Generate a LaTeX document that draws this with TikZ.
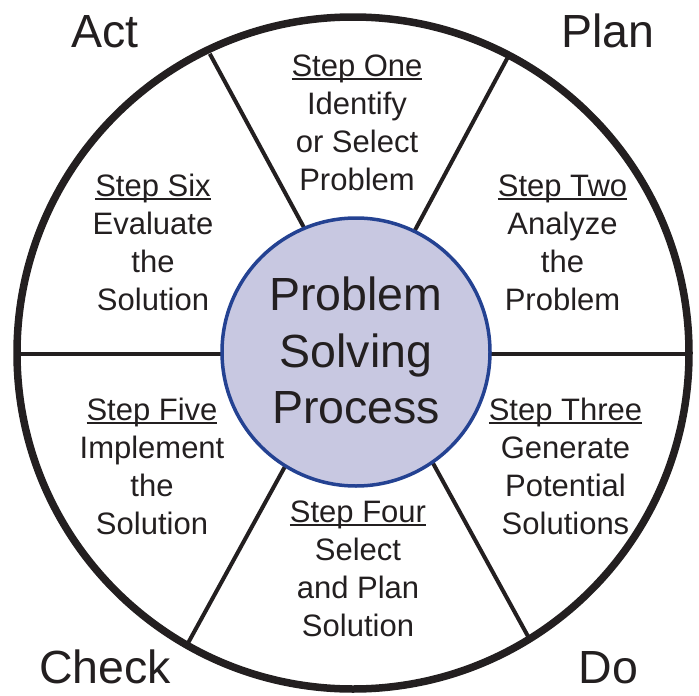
\documentclass[tikz,border=0pt]{standalone}
\usepackage{fontspec}
\setmainfont{Liberation Sans}
\definecolor{ink}{RGB}{35,31,32}
\definecolor{hubfill}{RGB}{200,200,225}
\definecolor{hubline}{RGB}{36,66,146}
\newcommand\stepul[1]{\setbox0\hbox{#1}\rlap{\rule[-4pt]{\wd0}{1.8pt}}\box0}
\tikzset{
  ringline/.style={draw=ink,line width=7.5pt},
  spoke/.style={draw=ink,line width=4pt},
  hub/.style={circle,draw=hubline,fill=hubfill,line width=3.5pt,minimum size=268pt,inner sep=0pt},
  steptxt/.style={anchor=base,inner sep=0pt,text=ink,font=\fontsize{31}{38}\selectfont},
  hubtxt/.style={anchor=base,inner sep=0pt,text=ink,font=\fontsize{46.5}{56}\selectfont},
  cornertxt/.style={anchor=base,inner sep=0pt,text=ink,font=\fontsize{46.5}{56}\selectfont}
}
\begin{document}
\begin{tikzpicture}[x=1pt,y=-1pt]
\useasboundingbox (0,0) rectangle (699,696);
% spoke end points
\coordinate (hl) at (17,354);
\coordinate (hr) at (689,354);
\coordinate (tlo) at (209.8,53.8);  \coordinate (tli) at (308,235);
\coordinate (tro) at (508.6,55.8);  \coordinate (tri) at (411.3,237);
\coordinate (blo) at (187.4,644.2); \coordinate (bli) at (288,461);
\coordinate (bro) at (529.2,638.5); \coordinate (bri) at (428.5,455);
\draw[spoke] (hl) -- (hr);
\draw[spoke] (tli) -- (tlo);
\draw[spoke] (tri) -- (tro);
\draw[spoke] (bli) -- (blo);
\draw[spoke] (bri) -- (bro);
\coordinate (ctr) at (353,353);
\draw[ringline] (ctr) circle (336);
\node[hub] (hub) at (356,352) {};
% hub text
\node[hubtxt] (h1) at (356,310) {Problem};
\node[hubtxt] (h2) at (356,367) {Solving};
\node[hubtxt] (h3) at (356,423) {Process};
% corner labels
\node[cornertxt] (act) at (105,47) {Act};
\node[cornertxt] (plan) at (608,47) {Plan};
\node[cornertxt] (check) at (105,683) {Check};
\node[cornertxt] (do) at (608.5,683) {Do};
% step one
\node[steptxt] (s1a) at (357,76) {\stepul{Step One}};
\node[steptxt] (s1b) at (357,114) {Identify};
\node[steptxt] (s1c) at (357,152) {or Select};
\node[steptxt] (s1d) at (357,190) {Problem};
% step two
\node[steptxt] (s2a) at (562.5,196) {\stepul{Step Two}};
\node[steptxt] (s2b) at (562.5,234) {Analyze};
\node[steptxt] (s2c) at (562.5,272) {the};
\node[steptxt] (s2d) at (562.5,310) {Problem};
% step three
\node[steptxt] (s3a) at (565.5,420) {\stepul{Step Three}};
\node[steptxt] (s3b) at (565.5,458) {Generate};
\node[steptxt] (s3c) at (565.5,496) {Potential};
\node[steptxt] (s3d) at (565.5,534) {Solutions};
% step four
\node[steptxt] (s4a) at (358,522) {\stepul{Step Four}};
\node[steptxt] (s4b) at (358,560) {Select};
\node[steptxt] (s4c) at (358,598) {and Plan};
\node[steptxt] (s4d) at (358,636) {Solution};
% step five
\node[steptxt] (s5a) at (152,420) {\stepul{Step Five}};
\node[steptxt] (s5b) at (152,458) {Implement};
\node[steptxt] (s5c) at (152,496) {the};
\node[steptxt] (s5d) at (152,534) {Solution};
% step six
\node[steptxt] (s6a) at (153,196) {\stepul{Step Six}};
\node[steptxt] (s6b) at (153,234) {Evaluate};
\node[steptxt] (s6c) at (153,272) {the};
\node[steptxt] (s6d) at (153,310) {Solution};
\end{tikzpicture}
\end{document}
